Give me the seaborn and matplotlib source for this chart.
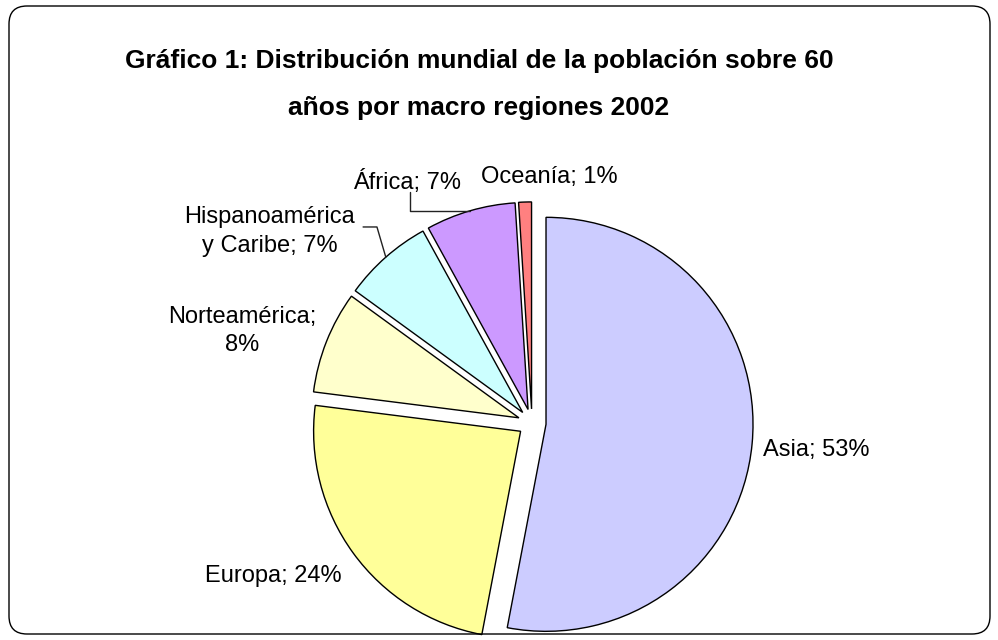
import matplotlib
matplotlib.use('Agg')
import matplotlib.pyplot as plt
import numpy as np
import seaborn as sns
from matplotlib.patches import FancyBboxPatch

# Datos del gráfico
regiones = ['Asia', 'Europa', 'Norteamérica', 'Hispanoamérica\ny Caribe', 'África', 'Oceanía']
porcentajes = [53, 24, 8, 7, 7, 1]
colores = ['#CCCCFF', '#FFFF99', '#FFFFCC', '#CCFFFF', '#CC99FF', '#FF8080']
titulo = ['Gráfico 1: Distribución mundial de la población sobre 60',
          'años por macro regiones 2002']

# Disposición de las etiquetas: separador, distancia al centro y giro respecto al ángulo medio
separadores = [' ', ' ', '\n', ' ', ' ', ' ']
dist_etiqueta = [1.378, 1.451, 1.470, 1.569, 1.311, 1.191]
giro_etiqueta = [0.0, -5.4, 4.0, 12.4, 11.2, -5.9]

sns.set_theme(style='white')
plt.rcParams['font.family'] = ['Liberation Sans', 'DejaVu Sans']

# centro y radio de la tarta en píxeles
cx, cy, R = 532, 423, 207
W, H = 998, 640

fig = plt.figure(figsize=(W / 100, H / 100), dpi=100)
ax = fig.add_axes([0, 0, 1, 1])

paleta = sns.color_palette(colores)
wedges, _ = ax.pie(porcentajes, colors=paleta, startangle=90, counterclock=False,
                   explode=[0.068] * len(porcentajes), radius=1,
                   wedgeprops=dict(edgecolor='black', linewidth=1))

ax.set_xlim(-cx / R, (W - cx) / R)
ax.set_ylim(-(H - cy) / R, cy / R)
ax.axis('off')

# etiquetas
for w, reg, pct, sep, r, dt in zip(wedges, regiones, porcentajes, separadores,
                                   dist_etiqueta, giro_etiqueta):
    ang = np.deg2rad((w.theta1 + w.theta2) / 2 + dt)
    ax.text(r * np.cos(ang), r * np.sin(ang), f'{reg};{sep}{pct}%',
            ha='center', va='center', fontsize=17, color='black', linespacing=1.4)


def punto_arco(w):
    ang = np.deg2rad((w.theta1 + w.theta2) / 2)
    return w.center[0] + w.r * np.cos(ang), w.center[1] + w.r * np.sin(ang)


# líneas guía
ex, ey = punto_arco(wedges[3])
ax.plot([-0.816, -0.749, ex], [0.947, 0.947, ey], color='#222222', lw=1)
ex, ey = punto_arco(wedges[4])
ax.plot([-0.589, -0.589, ex], [1.116, ey, ey], color='#222222', lw=1)

# marco redondeado
marco = FancyBboxPatch((-(cx - 9) / R, -(H - cy - 6) / R), (990 - 9) / R, (634 - 6) / R,
                       boxstyle=f'round,pad=0,rounding_size={18 / R}',
                       facecolor='none', edgecolor='black', linewidth=1, clip_on=False)
ax.add_patch(marco)

fig.text(479 / W, 1 - 61 / H, titulo[0], ha='center', va='center',
         fontsize=19, fontweight='bold', color='black')
fig.text(479 / W, 1 - 108 / H, titulo[1], ha='center', va='center',
         fontsize=19, fontweight='bold', color='black')

fig.savefig('out.png', dpi=100)
